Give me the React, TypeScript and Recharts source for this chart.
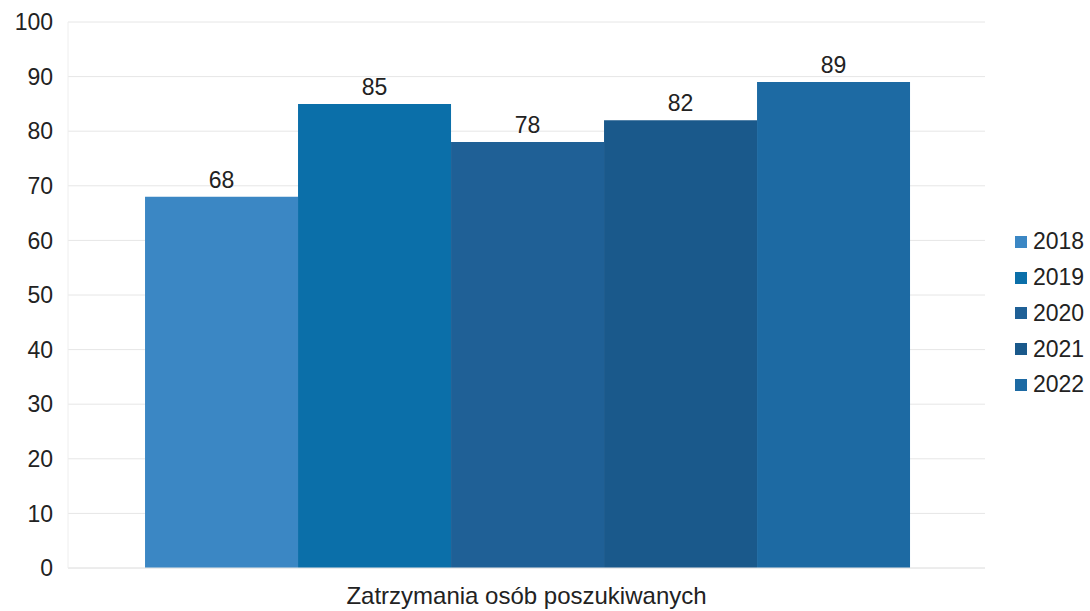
import React from "react";
import {
  BarChart,
  Bar,
  XAxis,
  YAxis,
  CartesianGrid,
  Legend,
  LabelList,
} from "recharts";

const categories = ["Zatrzymania osób poszukiwanych"];
const years = ["2018", "2019", "2020", "2021", "2022"];
const values = [68, 85, 78, 82, 89];
const yTicks = [0, 10, 20, 30, 40, 50, 60, 70, 80, 90, 100];

const colors = ["#3b87c4", "#0b6fa9", "#1f6096", "#1a598b", "#1d6aa3"];
const font = "'Liberation Sans', Arial, sans-serif";

const data = categories.map((name) => {
  const row: Record<string, string | number> = { name };
  years.forEach((y, i) => {
    row[y] = values[i];
  });
  return row;
});

const LegendContent = ({ payload }: any) => (
  <div style={{ fontFamily: font, fontSize: 23, color: "#222" }}>
    {(payload || []).map((p: any) => (
      <div
        key={p.value}
        style={{ display: "flex", alignItems: "center", height: 35.75 }}
      >
        <span
          style={{
            display: "inline-block",
            width: 12,
            height: 12,
            background: p.color,
            marginRight: 6,
          }}
        />
        {p.value}
      </div>
    ))}
  </div>
);

const App: React.FC = () => {
  return (
    <div style={{ width: 1090, height: 611, background: "#fff" }}>
      <style>{"body{margin:0}"}</style>
      <BarChart
        width={1090}
        height={611}
        data={data}
        margin={{ top: 22, right: 30, bottom: 0, left: 0 }}
        barCategoryGap="8.4%"
        barGap={0}
      >
        <CartesianGrid vertical={false} stroke="#e6e6e6" />
        <XAxis
          dataKey="name"
          height={43}
          tickLine={false}
          axisLine={{ stroke: "#e6e6e6" }}
          tickSize={0}
          tickMargin={19}
          tick={{ fill: "#222", fontSize: 24, fontFamily: font }}
        />
        <YAxis
          width={68}
          domain={[0, 100]}
          ticks={yTicks}
          interval={0}
          axisLine={{ stroke: "#eeeeee" }}
          tickLine={false}
          tickSize={0}
          tickMargin={15}
          tick={{ fill: "#222", fontSize: 23, fontFamily: font }}
        />
        <Legend
          layout="vertical"
          align="right"
          verticalAlign="middle"
          width={75}
          wrapperStyle={{ right: 0, top: 224 }}
          content={<LegendContent />}
        />
        {years.map((y, i) => (
          <Bar key={y} dataKey={y} fill={colors[i]} isAnimationActive={false}>
            <LabelList
              dataKey={y}
              position="top"
              offset={9}
              fill="#222"
              fontSize={23}
              fontFamily={font}
            />
          </Bar>
        ))}
      </BarChart>
    </div>
  );
};

export default App;
